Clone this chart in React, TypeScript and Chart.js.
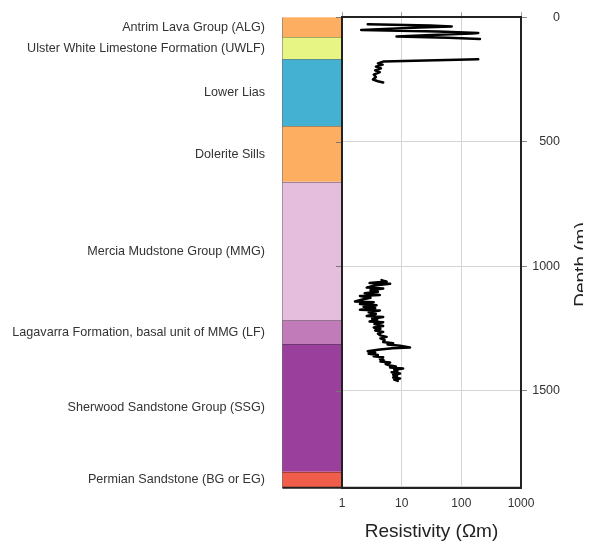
import { useEffect, useRef } from "react";
import { Chart, registerables } from "chart.js";
Chart.register(...registerables);

const FONT = "'Liberation Sans', Arial, sans-serif";

// Stratigraphic column
const strataNames = [
  "Antrim Lava Group (ALG)",
  "Ulster White Limestone Formation (UWLF)",
  "Lower Lias",
  "Dolerite Sills",
  "Mercia Mudstone Group (MMG)",
  "Lagavarra Formation, basal unit of MMG (LF)",
  "Sherwood Sandstone Group (SSG)",
  "Permian Sandstone (BG or EG)",
];
const strataTop = [0, 80, 169, 438, 661, 1218, 1313, 1826];
const strataBottom = [80, 169, 438, 661, 1218, 1313, 1826, 1890];
const strataColors = ["#fdae61", "#e6f584", "#44b1d2", "#fdae61", "#e5bedd", "#c07bb8", "#9b3f9c", "#f05d4b"];
const columnRange = [0.1, 1]; // column drawn over one decade left of the log axis

// Axes
const resTicks = [1, 10, 100, 1000];
const depthTicks = [0, 500, 1000, 1500];
const depthMin = 0;
const depthMax = 1890;

// Resistivity log segments
const seg1Depth = [28, 33, 37, 41, 51, 57, 63, 65, 70, 77, 82, 87];
const seg1Res = [2.7, 30, 69, 20, 2.1, 40, 192, 150, 40, 8.2, 60, 205];

const seg2Depth = [169, 178, 185, 190, 198, 205, 213, 220, 230, 240, 250, 257, 262];
const seg2Res = [192, 4.9, 4.0, 4.8, 3.7, 4.5, 3.6, 4.3, 3.4, 3.7, 3.3, 4.0, 4.9];

const seg3Depth = [
  1056, 1062, 1068, 1071, 1078, 1086, 1090, 1097, 1103, 1109, 1116, 1120, 1127, 1134, 1142, 1145, 1152, 1157,
  1163, 1168, 1175, 1178, 1185, 1192, 1200, 1204, 1211, 1216, 1222, 1225, 1232, 1240, 1246, 1252, 1258, 1264,
  1271, 1278, 1284, 1290, 1297, 1305, 1310, 1315, 1320, 1327, 1330, 1336, 1342, 1347, 1352, 1357, 1362, 1366,
  1372, 1378, 1383, 1387, 1393, 1399, 1403, 1407, 1411, 1416, 1421, 1426, 1431, 1436, 1441, 1447, 1451, 1456,
  1461,
];
const seg3Res = [
  4.6, 5.6, 2.9, 6.4, 3.4, 2.6, 4.9, 3.0, 4.0, 2.4, 4.3, 2.0, 3.0, 2.2, 1.65, 3.4, 2.0, 3.8,
  2.3, 3.6, 2.0, 4.3, 2.8, 3.7, 2.6, 4.9, 3.2, 3.9, 2.9, 4.9, 3.5, 4.9, 3.4, 4.4, 3.6, 4.9,
  4.0, 4.4, 5.6, 4.4, 5.2, 4.9, 7.2, 5.8, 9.4, 13.8, 7.0, 4.0, 2.7, 3.6, 2.8, 4.0, 3.4, 4.9,
  4.3, 5.0, 4.4, 6.4, 5.4, 6.4, 8.0, 6.4, 10.6, 7.5, 8.5, 6.8, 9.4, 7.2, 8.4, 7.2, 9.4, 7.5,
  8.6,
];

const segments = [
  [seg1Depth, seg1Res],
  [seg2Depth, seg2Res],
  [seg3Depth, seg3Res],
];

const zeroPad = (s: any) => {
  s.paddingTop = 0;
  s.paddingBottom = 0;
  s.paddingLeft = 0;
  s.paddingRight = 0;
};

const columnPlugin = {
  id: "stratColumn",
  beforeDraw(chart: any) {
    const { ctx, chartArea, scales } = chart;
    const x = scales.x;
    const y = scales.y;
    const l = x.getPixelForValue(columnRange[0]);
    const r = x.getPixelForValue(columnRange[1]);
    ctx.save();
    strataNames.forEach((_, i) => {
      const t = y.getPixelForValue(strataTop[i]);
      const b = y.getPixelForValue(strataBottom[i]);
      ctx.fillStyle = strataColors[i];
      ctx.fillRect(l, t, r - l, b - t);
    });
    ctx.strokeStyle = "rgba(0,0,0,0.3)";
    ctx.lineWidth = 1;
    ctx.beginPath();
    strataTop.forEach((d, i) => {
      if (i === 0) return;
      const py = Math.round(y.getPixelForValue(d)) + 0.5;
      ctx.moveTo(l, py);
      ctx.lineTo(r, py);
    });
    ctx.moveTo(Math.round(l) + 0.5, y.getPixelForValue(depthMin));
    ctx.lineTo(Math.round(l) + 0.5, y.getPixelForValue(depthMax));
    ctx.stroke();
    // small ticks on the left side of the log track
    ctx.strokeStyle = "#777";
    ctx.beginPath();
    depthTicks.forEach((d) => {
      const py = Math.round(y.getPixelForValue(d)) + 0.5;
      ctx.moveTo(r - 6, py);
      ctx.lineTo(r, py);
    });
    ctx.stroke();
    // bottom line under column and track
    ctx.strokeStyle = "#222";
    ctx.lineWidth = 2;
    ctx.beginPath();
    ctx.moveTo(l, chartArea.bottom);
    ctx.lineTo(chartArea.right, chartArea.bottom);
    ctx.stroke();
    ctx.restore();
  },
  afterDraw(chart: any) {
    const { ctx, chartArea } = chart;
    ctx.save();
    ctx.translate(574, (chartArea.top + chartArea.bottom) / 2 + 12);
    ctx.rotate(-Math.PI / 2);
    ctx.font = `19px ${FONT}`;
    ctx.fillStyle = "#222";
    ctx.textAlign = "center";
    ctx.textBaseline = "middle";
    ctx.fillText("Depth (m)", 0, 0);
    ctx.restore();
  },
};

export default function App() {
  const ref = useRef<HTMLCanvasElement | null>(null);
  useEffect(() => {
    if (!ref.current) return;
    Chart.defaults.font.family = FONT;
    const chart = new Chart(ref.current, {
      type: "line",
      data: {
        datasets: segments.map(([depths, res]) => ({
          data: depths.map((d, i) => ({ x: res[i], y: d })),
          xAxisID: "x",
          yAxisID: "y",
          borderColor: "#000",
          borderWidth: 2.5,
          borderJoinStyle: "round",
          borderCapStyle: "round",
          pointRadius: 0,
          fill: false,
          tension: 0,
        })),
      },
      options: {
        animation: false,
        responsive: false,
        maintainAspectRatio: false,
        layout: { autoPadding: false, padding: { left: 0, right: 31, top: 0, bottom: 0 } },
        plugins: { legend: { display: false }, tooltip: { enabled: false } },
        scales: {
          x: {
            type: "logarithmic",
            position: "bottom",
            min: resTicks[0],
            max: resTicks[resTicks.length - 1],
            afterBuildTicks: (s: any) => {
              s.ticks = resTicks.map((v) => ({ value: v }));
            },
            afterFit: (s: any) => {
              s.height = 59.3;
              zeroPad(s);
            },
            ticks: {
              callback: (v: any) => String(v),
              font: { size: 12 },
              color: "#333",
              padding: 9,
              autoSkip: false,
              maxRotation: 0,
            },
            grid: { color: "#d4d4d4", drawTicks: false },
            border: { display: true, color: "#222", width: 2 },
            title: {
              display: true,
              text: "Resistivity (Ωm)",
              font: { size: 19 },
              color: "#222",
              padding: { top: 0, bottom: 4 },
            },
          },
          x2: {
            type: "logarithmic",
            position: "top",
            min: resTicks[0],
            max: resTicks[resTicks.length - 1],
            afterBuildTicks: (s: any) => {
              s.ticks = resTicks.map((v) => ({ value: v }));
            },
            afterFit: (s: any) => {
              s.height = 9.3;
              zeroPad(s);
            },
            ticks: { display: false },
            grid: { drawOnChartArea: false, tickLength: 5, color: "#999" },
            border: { display: true, color: "#222", width: 2 },
          },
          y: {
            type: "linear",
            position: "right",
            reverse: true,
            min: depthMin,
            max: depthMax,
            afterBuildTicks: (s: any) => {
              s.ticks = depthTicks.map((v) => ({ value: v }));
            },
            afterFit: (s: any) => {
              s.width = 39;
              zeroPad(s);
            },
            ticks: {
              callback: (v: any) => String(v),
              font: { size: 12.5 },
              color: "#333",
              padding: 4,
              crossAlign: "far",
              autoSkip: false,
            },
            grid: { color: "#d4d4d4", tickLength: 6, tickColor: "#888" },
            border: { display: true, color: "#222", width: 2 },
          },
          yL: {
            type: "linear",
            position: "left",
            reverse: true,
            min: depthMin,
            max: depthMax,
            afterBuildTicks: (s: any) => {
              s.ticks = strataTop.map((t, i) => ({ value: (t + strataBottom[i]) / 2 }));
            },
            afterFit: (s: any) => {
              s.width = 334;
              zeroPad(s);
            },
            ticks: {
              callback: (_v: any, i: number) => strataNames[i],
              font: { size: 12.6 },
              color: "#333",
              padding: 0,
              autoSkip: false,
            },
            grid: { display: false, drawTicks: true, tickLength: 77 },
            border: { display: true, color: "#222", width: 2 },
          },
        },
      } as any,
      plugins: [columnPlugin],
    });
    return () => chart.destroy();
  }, []);
  return (
    <div style={{ width: 583, height: 539 }}>
      <canvas ref={ref} width={583} height={539} style={{ display: "block" }} />
    </div>
  );
}
